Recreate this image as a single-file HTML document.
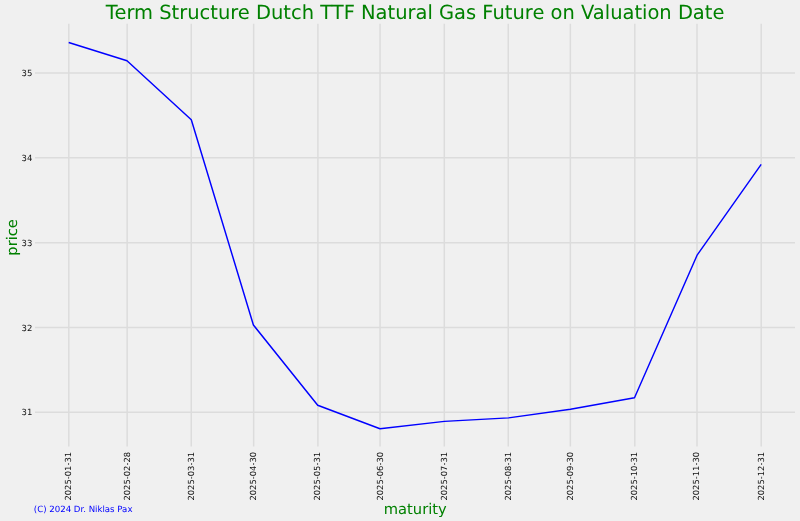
<!DOCTYPE html>
<html><head><meta charset="utf-8"><title>Term Structure</title>
<style>html,body{margin:0;padding:0;background:#f0f0f0;width:800px;height:521px;overflow:hidden}svg{display:block}</style>
</head><body>
<svg width="800" height="521" viewBox="0 0 800 521" text-rendering="geometricPrecision">
<rect x="0" y="0" width="800" height="521" fill="#f0f0f0"/>
<line x1="35.0" x2="795.0" y1="412.35" y2="412.35" stroke="#dcdcdc" stroke-width="1.5"/>
<line x1="35.0" x2="795.0" y1="327.50" y2="327.50" stroke="#dcdcdc" stroke-width="1.5"/>
<line x1="35.0" x2="795.0" y1="242.65" y2="242.65" stroke="#dcdcdc" stroke-width="1.5"/>
<line x1="35.0" x2="795.0" y1="157.80" y2="157.80" stroke="#dcdcdc" stroke-width="1.5"/>
<line x1="35.0" x2="795.0" y1="72.95" y2="72.95" stroke="#dcdcdc" stroke-width="1.5"/>
<line x1="68.80" x2="68.80" y1="23.7" y2="446.6" stroke="#dcdcdc" stroke-width="1.5"/>
<line x1="127.15" x2="127.15" y1="23.7" y2="446.6" stroke="#dcdcdc" stroke-width="1.5"/>
<line x1="191.25" x2="191.25" y1="23.7" y2="446.6" stroke="#dcdcdc" stroke-width="1.5"/>
<line x1="253.65" x2="253.65" y1="23.7" y2="446.6" stroke="#dcdcdc" stroke-width="1.5"/>
<line x1="317.90" x2="317.90" y1="23.7" y2="446.6" stroke="#dcdcdc" stroke-width="1.5"/>
<line x1="380.05" x2="380.05" y1="23.7" y2="446.6" stroke="#dcdcdc" stroke-width="1.5"/>
<line x1="444.30" x2="444.30" y1="23.7" y2="446.6" stroke="#dcdcdc" stroke-width="1.5"/>
<line x1="508.25" x2="508.25" y1="23.7" y2="446.6" stroke="#dcdcdc" stroke-width="1.5"/>
<line x1="570.35" x2="570.35" y1="23.7" y2="446.6" stroke="#dcdcdc" stroke-width="1.5"/>
<line x1="634.80" x2="634.80" y1="23.7" y2="446.6" stroke="#dcdcdc" stroke-width="1.5"/>
<line x1="697.00" x2="697.00" y1="23.7" y2="446.6" stroke="#dcdcdc" stroke-width="1.5"/>
<line x1="761.20" x2="761.20" y1="23.7" y2="446.6" stroke="#dcdcdc" stroke-width="1.5"/>
<polyline points="68.70,42.50 127.00,60.80 191.30,119.70 253.40,325.00 317.70,405.20 380.00,428.70 444.40,421.40 508.50,417.90 570.45,409.20 634.50,397.80 697.30,254.80 761.20,164.30" fill="none" stroke="#0000ff" stroke-width="1.45" stroke-linejoin="round" stroke-linecap="butt"/>
<text x="32.4" y="415" text-anchor="end" font-family="DejaVu Sans, sans-serif" font-size="8.5" fill="#111">31</text>
<text x="32.4" y="331" text-anchor="end" font-family="DejaVu Sans, sans-serif" font-size="8.5" fill="#111">32</text>
<text x="32.4" y="246" text-anchor="end" font-family="DejaVu Sans, sans-serif" font-size="8.5" fill="#111">33</text>
<text x="32.4" y="161" text-anchor="end" font-family="DejaVu Sans, sans-serif" font-size="8.5" fill="#111">34</text>
<text x="32.4" y="76" text-anchor="end" font-family="DejaVu Sans, sans-serif" font-size="8.5" fill="#111">35</text>
<text transform="translate(71,451.9) rotate(-90)" text-anchor="end" font-family="DejaVu Sans, sans-serif" font-size="8.4" fill="#111">2025-01-31</text>
<text transform="translate(130,451.9) rotate(-90)" text-anchor="end" font-family="DejaVu Sans, sans-serif" font-size="8.4" fill="#111">2025-02-28</text>
<text transform="translate(194,451.9) rotate(-90)" text-anchor="end" font-family="DejaVu Sans, sans-serif" font-size="8.4" fill="#111">2025-03-31</text>
<text transform="translate(256,451.9) rotate(-90)" text-anchor="end" font-family="DejaVu Sans, sans-serif" font-size="8.4" fill="#111">2025-04-30</text>
<text transform="translate(320,451.9) rotate(-90)" text-anchor="end" font-family="DejaVu Sans, sans-serif" font-size="8.4" fill="#111">2025-05-31</text>
<text transform="translate(383,451.9) rotate(-90)" text-anchor="end" font-family="DejaVu Sans, sans-serif" font-size="8.4" fill="#111">2025-06-30</text>
<text transform="translate(447,451.9) rotate(-90)" text-anchor="end" font-family="DejaVu Sans, sans-serif" font-size="8.4" fill="#111">2025-07-31</text>
<text transform="translate(511,451.9) rotate(-90)" text-anchor="end" font-family="DejaVu Sans, sans-serif" font-size="8.4" fill="#111">2025-08-31</text>
<text transform="translate(573,451.9) rotate(-90)" text-anchor="end" font-family="DejaVu Sans, sans-serif" font-size="8.4" fill="#111">2025-09-30</text>
<text transform="translate(637,451.9) rotate(-90)" text-anchor="end" font-family="DejaVu Sans, sans-serif" font-size="8.4" fill="#111">2025-10-31</text>
<text transform="translate(699,451.9) rotate(-90)" text-anchor="end" font-family="DejaVu Sans, sans-serif" font-size="8.4" fill="#111">2025-11-30</text>
<text transform="translate(764,451.9) rotate(-90)" text-anchor="end" font-family="DejaVu Sans, sans-serif" font-size="8.4" fill="#111">2025-12-31</text>
<text x="415.15" y="18.6" text-anchor="middle" font-family="DejaVu Sans, sans-serif" font-size="19.48" fill="#008000">Term Structure Dutch TTF Natural Gas Future on Valuation Date</text>
<text x="415.25" y="513.7" text-anchor="middle" font-family="DejaVu Sans, sans-serif" font-size="14.7" fill="#008000">maturity</text>
<text transform="translate(17.3,237.45) rotate(-90)" text-anchor="middle" font-family="DejaVu Sans, sans-serif" font-size="14.64" fill="#008000">price</text>
<text x="33.8" y="512.2" font-family="DejaVu Sans, sans-serif" font-size="8.6" fill="#0000ff">(C) 2024 Dr. Niklas Pax</text>
</svg>
</body></html>
